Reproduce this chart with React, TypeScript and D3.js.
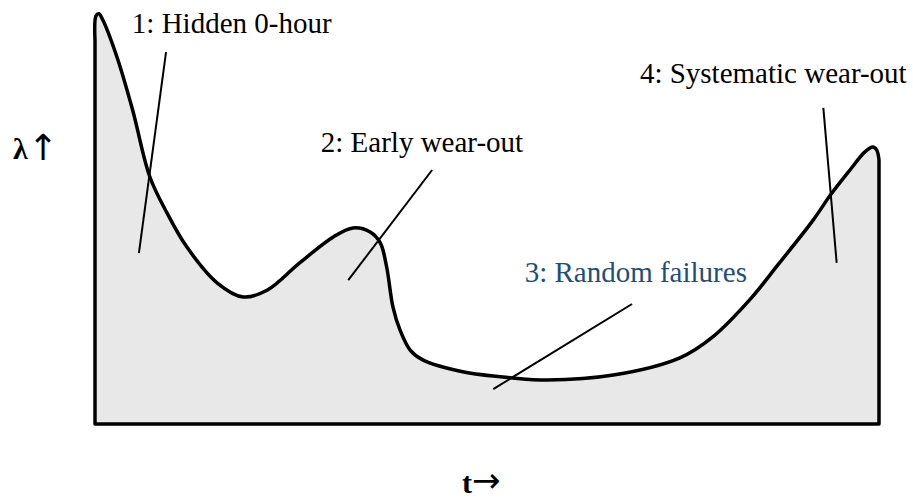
import React from "react";
import * as d3 from "d3";

// Hazard-rate ("bathtub") curve: time t (0–100) vs failure rate λ (0–100)
const curveT = [0, 0.13, 0.5, 1.0, 2.8, 4.8, 7.0, 9.2, 11.7, 15.6, 18.9, 22.0, 26.1, 30.4, 32.9, 35.1, 36.4, 37.2, 38.0, 38.9, 40.2, 41.8, 46.9, 53.3, 57.7, 66.1, 74.6, 78.8, 83.5, 87.1, 91.6, 93.8, 96.3, 98.2, 99.2, 99.7, 100];
const curveL = [93.4, 99.3, 99.8, 98.3, 89.3, 76.4, 60.1, 51.3, 43.1, 34.3, 30.9, 32.6, 39.2, 45.5, 47.7, 46.7, 44.0, 38.2, 28.5, 22.9, 18.0, 15.6, 12.7, 11.2, 10.7, 11.9, 16.1, 21.2, 30.2, 38.7, 49.6, 55.7, 61.8, 66.2, 67.4, 66.7, 64.2];

// Annotations
const labelTexts = ["1: Hidden 0-hour", "2: Early wear-out", "3: Random failures", "4: Systematic wear-out"];
const labelColors = ["#000000", "#000000", "#1f4e79", "#000000"];
const labelT = [4.7, 28.8, 54.8, 69.5];
const labelL = [95.1, 66.2, 34.5, 83.0];
const leaderT1 = [9.06, 43.0, 68.5, 92.9];
const leaderL1 = [90.5, 61.8, 29.2, 76.9];
const leaderT2 = [5.6, 32.3, 50.8, 94.6];
const leaderL2 = [41.6, 35.0, 8.5, 39.2];

const W = 913;
const H = 499;

export default function App() {
  const x = d3.scaleLinear().domain([0, 100]).range([95, 879]);
  const y = d3.scaleLinear().domain([0, 100]).range([424, 13]);

  const pts: [number, number][] = curveT.map((t, i) => [t, curveL[i]]);
  const line = d3
    .line<[number, number]>()
    .x((d) => x(d[0]))
    .y((d) => y(d[1]))
    .curve(d3.curveCatmullRom.alpha(0.5));
  const curvePath = line(pts) || "";
  const outline =
    `M${x(0)},${y(0)}L` + curvePath.slice(1) + `L${x(100)},${y(0)}Z`;

  const font = "'Liberation Serif', 'Times New Roman', serif";
  const arrowFont = "'DejaVu Sans', sans-serif";

  return (
    <svg
      width={W}
      height={H}
      style={{ position: "absolute", left: 0, top: 0, background: "#fff" }}
    >
      <path
        d={outline}
        fill="#e8e8e8"
        stroke="#000"
        strokeWidth={3.5}
        strokeLinejoin="round"
      />
      {labelTexts.map((s, i) => (
        <g key={i}>
          <line
            x1={x(leaderT1[i])}
            y1={y(leaderL1[i])}
            x2={x(leaderT2[i])}
            y2={y(leaderL2[i])}
            stroke="#000"
            strokeWidth={2}
          />
          <text
            x={x(labelT[i])}
            y={y(labelL[i])}
            fontFamily={font}
            fontSize={29}
            fill={labelColors[i]}
          >
            {s}
          </text>
        </g>
      ))}
      <text x={13} y={159} fontFamily={font} fontSize={30} fontWeight="bold">
        λ
        <tspan fontFamily={arrowFont} fontWeight="normal" fontSize={36} dy={1}>
          ↑
        </tspan>
      </text>
      <text x={462} y={493} fontFamily={font} fontSize={30} fontWeight="bold">
        t
        <tspan fontFamily={arrowFont} fontWeight="normal" fontSize={34} dy={-1}>
          →
        </tspan>
      </text>
    </svg>
  );
}
